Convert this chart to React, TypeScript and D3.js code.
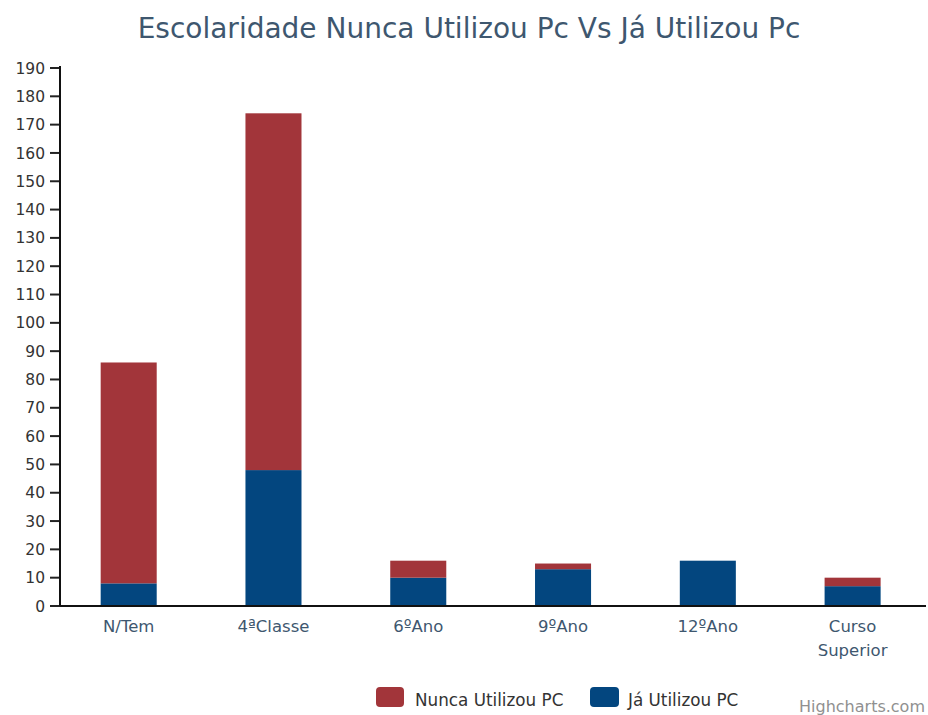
import React from "react";
import * as d3 from "d3";

const categories = ["N/Tem", "4ªClasse", "6ºAno", "9ºAno", "12ºAno", "Curso Superior"];
const nuncaUtilizou = [78, 126, 6, 2, 0, 3];
const jaUtilizou = [8, 48, 10, 13, 16, 7];
const yTicks = [0, 10, 20, 30, 40, 50, 60, 70, 80, 90, 100, 110, 120, 130, 140, 150, 160, 170, 180, 190];
const seriesNames = ["Nunca Utilizou PC", "Já Utilizou PC"];
const title = "Escolaridade Nunca Utilizou Pc Vs Já Utilizou Pc";

const RED = "#A2353A";
const BLUE = "#03467F";
const FONT = "'DejaVu Sans', sans-serif";

const W = 928;
const H = 715;
const plotLeft = 60;
const plotRight = 926;
const plotTop = 68;
const plotBottom = 606;

export default function App() {
  const x = d3
    .scaleBand<string>()
    .domain(categories)
    .range([56.3, 925])
    .paddingInner(0.613)
    .paddingOuter(0.3065);
  const y = d3.scaleLinear().domain([0, 190]).range([plotBottom, plotTop]);

  const stackData = categories.map((c, i) => ({ cat: c, ja: jaUtilizou[i], nunca: nuncaUtilizou[i] }));
  const stack = d3.stack<any>().keys(["ja", "nunca"]);
  const layers = stack(stackData);
  const colors: Record<string, string> = { ja: BLUE, nunca: RED };

  return (
    <div style={{ position: "fixed", left: 0, top: 0, width: W, height: H, overflow: "hidden" }}>
      <svg width={W} height={H} style={{ display: "block", background: "#fff" }}>
        <text
          x={469}
          y={38}
          textAnchor="middle"
          fontFamily={FONT}
          fontSize={28}
          fill="#3E576F"
        >
          {title}
        </text>

        {layers.map((layer) => (
          <g key={layer.key}>
            {layer.map((d, i) =>
              d[1] - d[0] > 0 ? (
                <rect
                  key={i}
                  x={x(categories[i])}
                  y={y(d[1])}
                  width={x.bandwidth()}
                  height={y(d[0]) - y(d[1])}
                  fill={colors[layer.key]}
                />
              ) : null
            )}
          </g>
        ))}

        {yTicks.map((t) => (
          <g key={t}>
            <line x1={50} x2={plotLeft} y1={y(t)} y2={y(t)} stroke="#222" strokeWidth={2} />
            <text
              x={45}
              y={y(t)}
              dy="0.36em"
              textAnchor="end"
              fontFamily={FONT}
              fontSize={15.5}
              fill="#333"
            >
              {t}
            </text>
          </g>
        ))}

        <line x1={plotLeft} x2={plotLeft} y1={plotTop - 2} y2={plotBottom} stroke="#111" strokeWidth={2} />
        <line x1={plotLeft} x2={plotRight} y1={plotBottom} y2={plotBottom} stroke="#111" strokeWidth={2} />

        {categories.map((c) => {
          const cx = (x(c) as number) + x.bandwidth() / 2;
          const words = c === "Curso Superior" ? ["Curso", "Superior"] : [c];
          return (
            <text key={c} x={cx} y={632} textAnchor="middle" fontFamily={FONT} fontSize={16.5} fill="#3E576F">
              {words.map((w, k) => (
                <tspan key={k} x={cx} dy={k === 0 ? 0 : 24}>
                  {w}
                </tspan>
              ))}
            </text>
          );
        })}

        <g>
          <rect x={376} y={687} width={28} height={20} rx={4} fill={RED} />
          <text x={415} y={706} fontFamily={FONT} fontSize={16.8} fill="#333">
            {seriesNames[0]}
          </text>
          <rect x={590} y={687} width={29} height={20} rx={4} fill={BLUE} />
          <text x={628} y={706} fontFamily={FONT} fontSize={16.8} fill="#333">
            {seriesNames[1]}
          </text>
        </g>

        <text x={925} y={712} textAnchor="end" fontFamily={FONT} fontSize={16} fill="#909090">
          Highcharts.com
        </text>
      </svg>
    </div>
  );
}
